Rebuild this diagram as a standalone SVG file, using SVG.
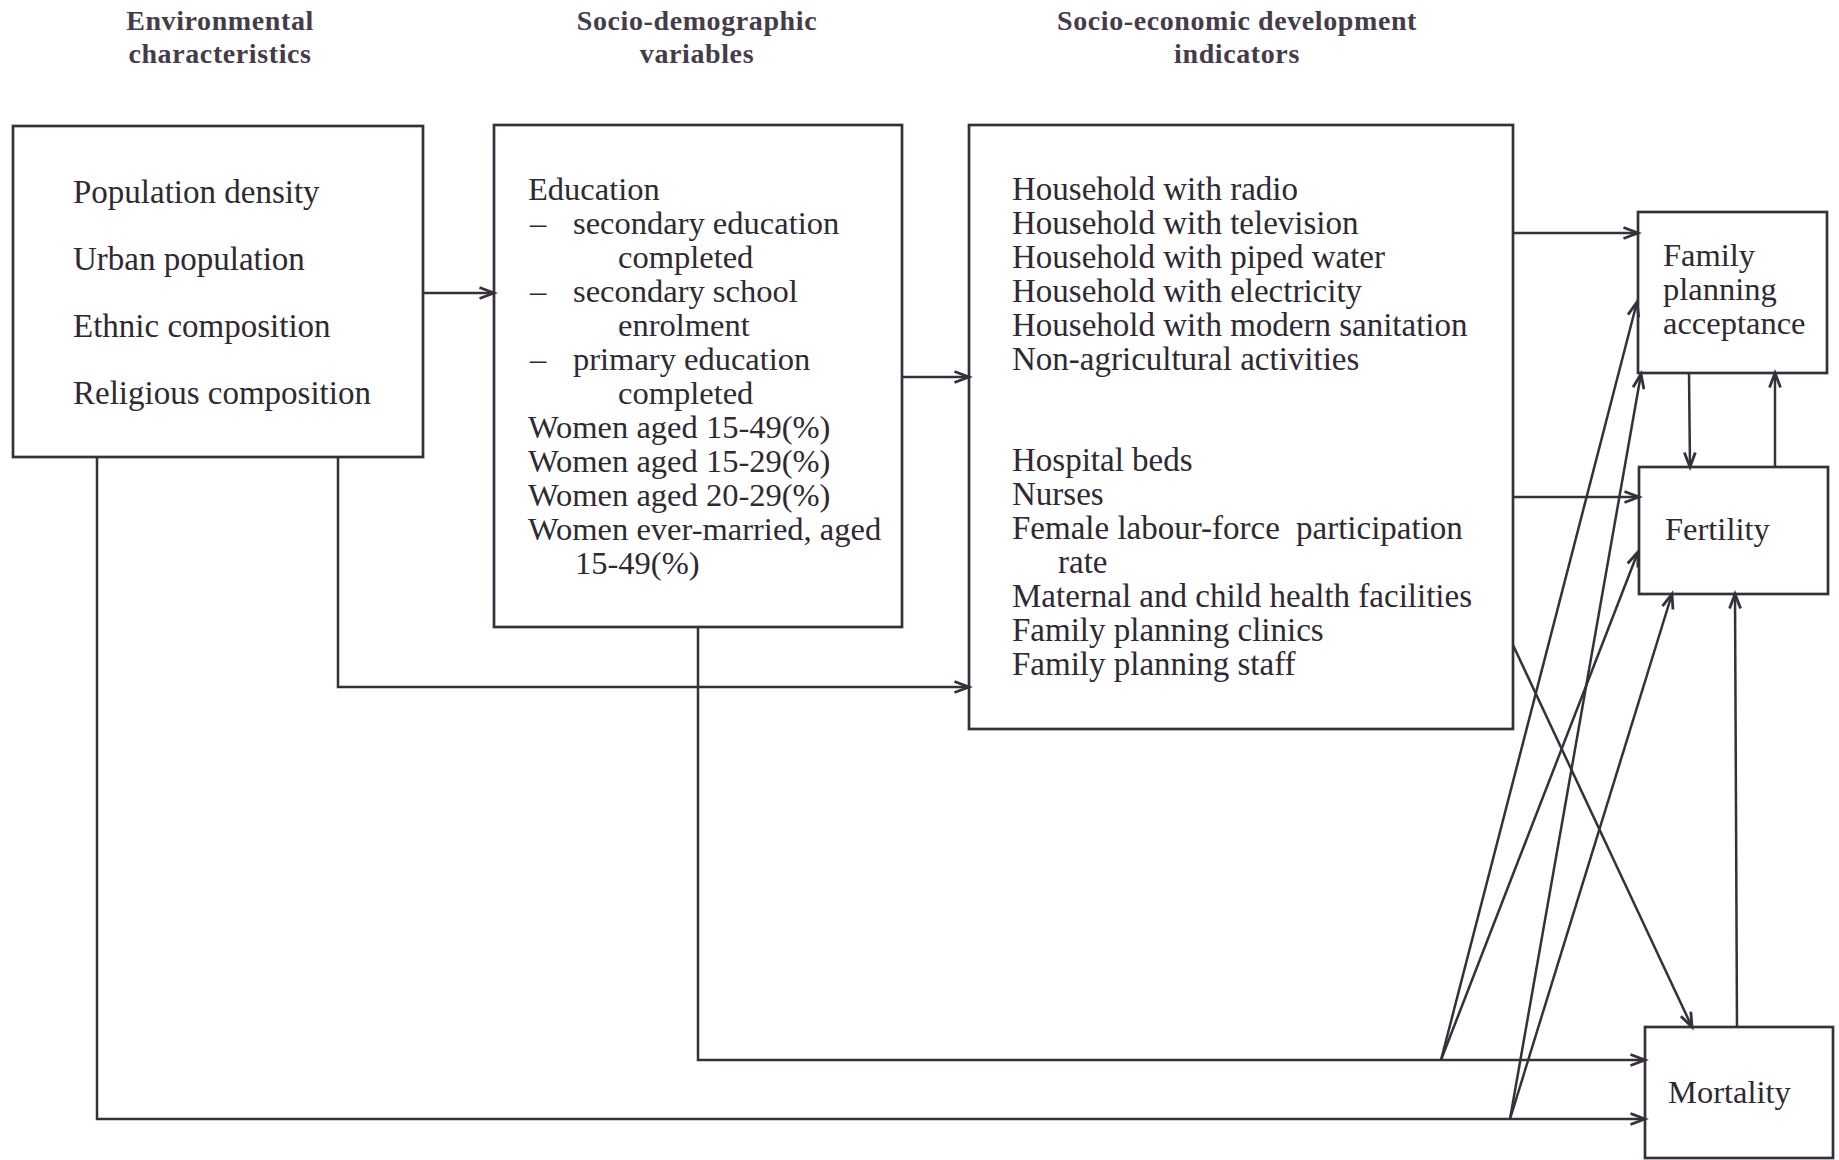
<svg xmlns="http://www.w3.org/2000/svg" width="1839" height="1160" viewBox="0 0 1839 1160">
<defs>
<marker id="arr" markerUnits="userSpaceOnUse" markerWidth="20" markerHeight="16" refX="16" refY="7" orient="auto">
<path d="M1.5,1.5 L16,7 L1.5,12.5" fill="none" stroke="#35303a" stroke-width="2.8" stroke-linejoin="miter"/>
</marker>
<style>
.box{fill:none;stroke:#35303a;stroke-width:2.7}
.ln{fill:none;stroke:#35303a;stroke-width:2.5;marker-end:url(#arr)}
.hd{font-family:"Liberation Serif",serif;font-weight:bold;font-size:28px;letter-spacing:0.6px;fill:#453c4a;text-anchor:middle}
.tx{font-family:"Liberation Serif",serif;font-size:33px;fill:#2e2933}
.t2{font-family:"Liberation Serif",serif;font-size:32.5px;fill:#2e2933}
</style>
</defs>
<rect width="1839" height="1160" fill="#ffffff"/>

<g id="headers">
<text class="hd" x="220" y="30">Environmental</text>
<text class="hd" x="220" y="63">characteristics</text>
<text class="hd" x="697" y="30">Socio-demographic</text>
<text class="hd" x="697" y="63">variables</text>
<text class="hd" x="1237" y="30">Socio-economic development</text>
<text class="hd" x="1237" y="63">indicators</text>
</g>

<g id="environmental">
<rect class="box" x="13" y="126" width="410" height="331"/>
<text class="tx" x="73" y="203">Population density</text>
<text class="tx" x="73" y="270">Urban population</text>
<text class="tx" x="73" y="337">Ethnic composition</text>
<text class="tx" x="73" y="404">Religious composition</text>
</g>

<g id="sociodemographic">
<rect class="box" x="494" y="125" width="408" height="502"/>
<text class="t2" x="528" y="200">Education</text>
<text class="t2" x="530" y="234">–</text>
<text class="t2" x="573" y="234">secondary education</text>
<text class="t2" x="618" y="268">completed</text>
<text class="t2" x="530" y="302">–</text>
<text class="t2" x="573" y="302">secondary school</text>
<text class="t2" x="618" y="336">enrolment</text>
<text class="t2" x="530" y="370">–</text>
<text class="t2" x="573" y="370">primary education</text>
<text class="t2" x="618" y="404">completed</text>
<text class="t2" x="528" y="438">Women aged 15-49(%)</text>
<text class="t2" x="528" y="472">Women aged 15-29(%)</text>
<text class="t2" x="528" y="506">Women aged 20-29(%)</text>
<text class="t2" x="528" y="540">Women ever-married, aged</text>
<text class="t2" x="575" y="574">15-49(%)</text>
</g>

<g id="socioeconomic">
<rect class="box" x="969" y="125" width="544" height="604"/>
<text class="tx" x="1012" y="200">Household with radio</text>
<text class="tx" x="1012" y="234">Household with television</text>
<text class="tx" x="1012" y="268">Household with piped water</text>
<text class="tx" x="1012" y="302">Household with electricity</text>
<text class="tx" x="1012" y="336">Household with modern sanitation</text>
<text class="tx" x="1012" y="370">Non-agricultural activities</text>
<text class="tx" x="1012" y="471">Hospital beds</text>
<text class="tx" x="1012" y="505">Nurses</text>
<text class="tx" x="1012" y="539">Female labour-force <tspan dx="8">participation</tspan></text>
<text class="tx" x="1058" y="573">rate</text>
<text class="tx" x="1012" y="607">Maternal and child health facilities</text>
<text class="tx" x="1012" y="641">Family planning clinics</text>
<text class="tx" x="1012" y="675">Family planning staff</text>
</g>

<g id="fpa">
<rect class="box" x="1638" y="212" width="189" height="161"/>
<text class="t2" x="1663" y="266">Family</text>
<text class="t2" x="1663" y="300">planning</text>
<text class="t2" x="1663" y="334">acceptance</text>
</g>

<g id="fertility">
<rect class="box" x="1639" y="467" width="189" height="127"/>
<text class="t2" x="1665" y="540">Fertility</text>
</g>

<g id="mortality">
<rect class="box" x="1645" y="1027" width="188" height="131"/>
<text class="t2" x="1668" y="1103">Mortality</text>
</g>

<g id="connectors">
<path class="ln" d="M423,293 H494"/>
<path class="ln" d="M902,377 H969"/>
<path class="ln" d="M338,457 V687 H969"/>
<path class="ln" d="M97,457 V1119 H1645"/>
<path class="ln" d="M698,627 V1060 H1645"/>
<path class="ln" d="M1513,233 H1638"/>
<path class="ln" d="M1513,497 H1639"/>
<path class="ln" d="M1513,645 L1692,1027"/>
<path class="ln" d="M1441,1060 L1637,302"/>
<path class="ln" d="M1441,1060 L1638,552"/>
<path class="ln" d="M1510,1119 L1641,374"/>
<path class="ln" d="M1510,1119 L1672,594"/>
<path class="ln" d="M1689,373 L1690,467"/>
<path class="ln" d="M1775,467 L1775,373"/>
<path class="ln" d="M1737,1027 L1735,594"/>
</g>
</svg>
